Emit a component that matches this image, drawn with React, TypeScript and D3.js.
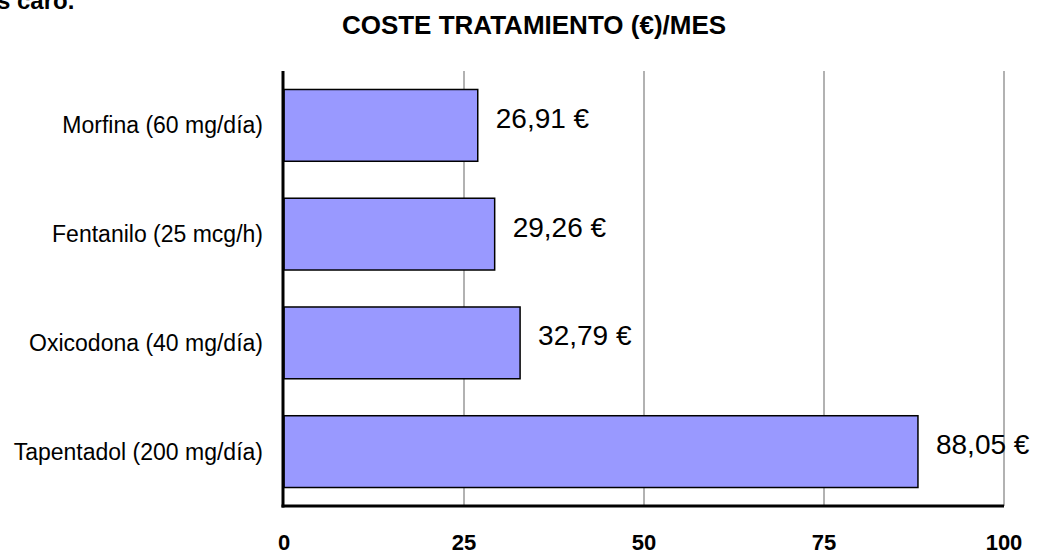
import React from 'react';
import { scaleLinear, scaleBand } from 'd3';

// data
const categories = [
  'Morfina (60 mg/día)',
  'Fentanilo (25 mcg/h)',
  'Oxicodona (40 mg/día)',
  'Tapentadol (200 mg/día)'
];
const costs = [26.91, 29.26, 32.79, 88.05];
const costLabels = ['26,91 €', '29,26 €', '32,79 €', '88,05 €'];
const ticks = [0, 25, 50, 75, 100];

const dims = {
  width: 1037,
  height: 554,
  left: 284,
  right: 1004,
  top: 71,
  bottom: 506
};

export default function App() {
  const { width, height, left, right, top, bottom } = dims;

  const x = scaleLinear().domain([0, 100]).range([left, right]);
  const y = scaleBand<string>()
    .domain(categories)
    .range([top, bottom])
    .paddingInner(0.34)
    .paddingOuter(0.17);

  const font = 'Arial, "Liberation Sans", sans-serif';

  return (
    <svg
      width={width}
      height={height}
      style={{ position: 'absolute', left: 0, top: 0, background: '#fff' }}
      fontFamily={font}
    >
      {/* clipped text from the page above */}
      <text x={-3} y={9} fontSize={24} fontWeight="bold">s caro.</text>

      {/* title */}
      <text x={534} y={34} fontSize={26} fontWeight="bold" textAnchor="middle">
        COSTE TRATAMIENTO (€)/MES
      </text>

      {/* grid */}
      {ticks.slice(1).map(t => (
        <line key={t} x1={x(t)} x2={x(t)} y1={top} y2={bottom} stroke="#999" strokeWidth={1.5} />
      ))}

      {/* bars */}
      {categories.map((c, i) => (
        <rect
          key={c}
          x={x(0)}
          y={y(c)}
          width={x(costs[i]) - x(0)}
          height={y.bandwidth()}
          fill="#9999FF"
          stroke="#000"
          strokeWidth={1.5}
        />
      ))}

      {/* axes */}
      <line x1={left - 1} x2={left - 1} y1={top} y2={bottom + 1.5} stroke="#000" strokeWidth={3} />
      <line x1={left - 2.5} x2={right} y1={bottom} y2={bottom} stroke="#000" strokeWidth={3} />

      {/* value labels */}
      {categories.map((c, i) => (
        <text
          key={c}
          x={x(costs[i]) + 18}
          y={(y(c) ?? 0) + y.bandwidth() / 2 + 2.5}
          fontSize={28}
        >
          {costLabels[i]}
        </text>
      ))}

      {/* category labels */}
      {categories.map(c => (
        <text
          key={c}
          x={263}
          y={(y(c) ?? 0) + y.bandwidth() / 2 + 8}
          fontSize={23}
          textAnchor="end"
        >
          {c}
        </text>
      ))}

      {/* tick labels */}
      {ticks.map(t => (
        <text key={t} x={x(t)} y={550} fontSize={22} fontWeight="bold" textAnchor="middle">
          {t}
        </text>
      ))}
    </svg>
  );
}
